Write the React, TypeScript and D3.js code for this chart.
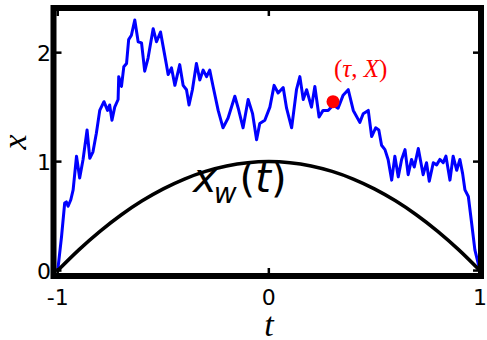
import * as d3 from "d3";

// Brownian path: time t and position x
const pathT = [
  -1.0, -0.982, -0.967, -0.959, -0.951, -0.938, -0.927, -0.911, -0.896, -0.88,
  -0.861, -0.848, -0.833, -0.817, -0.801, -0.781, -0.764, -0.754, -0.743, -0.73,
  -0.714, -0.711, -0.698, -0.687, -0.674, -0.664, -0.651, -0.635, -0.619, -0.603,
  -0.588, -0.572, -0.548, -0.532, -0.513, -0.501, -0.485, -0.477, -0.461, -0.445,
  -0.422, -0.406, -0.39, -0.378, -0.362, -0.343, -0.327, -0.311, -0.295, -0.28,
  -0.264, -0.24, -0.217, -0.193, -0.161, -0.145, -0.122, -0.098, -0.077, -0.058,
  -0.043, -0.019, 0.005, 0.025, 0.044, 0.068, 0.084, 0.108, 0.131, 0.147,
  0.163, 0.179, 0.202, 0.218, 0.238, 0.257, 0.281, 0.305, 0.328, 0.352,
  0.376, 0.4, 0.431, 0.447, 0.471, 0.487, 0.506, 0.521, 0.534, 0.55,
  0.565, 0.582, 0.597, 0.613, 0.629, 0.645, 0.66, 0.676, 0.689, 0.708,
  0.731, 0.747, 0.76, 0.779, 0.795, 0.81, 0.826, 0.839, 0.858, 0.873,
  0.89, 0.905, 0.918, 0.929, 0.945, 0.961, 0.976, 1.0,
];
const pathX = [
  0, 0.31, 0.62, 0.63, 0.59, 0.65, 0.74, 1.05, 0.85, 1.02,
  1.29, 1.03, 1.09, 1.26, 1.47, 1.55, 1.47, 1.52, 1.38, 1.5,
  1.57, 1.78, 1.69, 1.87, 1.9, 2.12, 2.16, 2.3, 2.1, 2.09,
  1.83, 1.95, 2.22, 2.1, 2.19, 2.06, 1.89, 1.8, 1.86, 1.7,
  1.89, 1.7, 1.66, 1.52, 1.66, 1.9, 1.75, 1.84, 1.78, 1.84,
  1.69, 1.47, 1.31, 1.4, 1.6, 1.49, 1.31, 1.57, 1.44, 1.2,
  1.35, 1.38, 1.5, 1.7, 1.63, 1.68, 1.49, 1.31, 1.66, 1.78,
  1.57, 1.66, 1.5, 1.69, 1.41, 1.47, 1.47, 1.52, 1.49, 1.61,
  1.66, 1.47, 1.36, 1.44, 1.47, 1.23, 1.31, 1.29, 1.15, 1.11,
  1.02, 0.83, 1.05, 0.86, 1.02, 1.11, 0.88, 1.02, 0.95, 1.12,
  0.88, 0.99, 0.82, 0.99, 0.97, 1.02, 0.99, 1.05, 0.83, 1.05,
  0.92, 1.02, 0.89, 0.74, 0.68, 0.43, 0.19, 0,
];

// x_w(t) curve
const curveT = [-1, -0.9, -0.8, -0.7, -0.6, -0.5, -0.4, -0.3, -0.2, -0.1, 0, 0.1, 0.2, 0.3, 0.4, 0.5, 0.6, 0.7, 0.8, 0.9, 1];
const curveX = [0, 0.19, 0.36, 0.51, 0.64, 0.75, 0.84, 0.91, 0.96, 0.99, 1, 0.99, 0.96, 0.91, 0.84, 0.75, 0.64, 0.51, 0.36, 0.19, 0];

const pointTau = 0.304;
const pointX = 1.55;

const xTicks = [-1, 0, 1];
const yTicks = [0, 1, 2];

const W = 487;
const H = 340;

export default function App() {
  const x = d3.scaleLinear().domain([-1.02, 1.005]).range([53.5, 481]);
  const y = d3.scaleLinear().domain([-0.05, 2.41]).range([276, 8]);

  const line = d3
    .line<number>()
    .x((d, i) => x(pathT[i]))
    .y((d) => y(d));

  const parab = d3
    .line<number>()
    .x((d, i) => x(curveT[i]))
    .y((d) => y(d))
    .curve(d3.curveMonotoneX);

  const [x0, x1] = x.range();
  const [yb, yt] = y.range();
  const tickLen = 8;
  const tickFont = "DejaVu Sans, sans-serif";
  const mathFont = "Liberation Serif, serif";

  return (
    <div style={{ position: "fixed", left: 0, top: 0 }}>
      <svg width={W} height={H} style={{ display: "block", background: "#fff" }}>
        <path d={line(pathX) ?? ""} fill="none" stroke="#0000ff" strokeWidth={3} strokeLinejoin="round" />
        <path d={parab(curveX) ?? ""} fill="none" stroke="#000" strokeWidth={3.5} />
        <circle cx={x(pointTau)} cy={y(pointX)} r={6.5} fill="#ff0000" />
        <text x={x(pointTau) + 1} y={y(pointX) - 25} fill="#ff0000" fontFamily={mathFont} fontSize={25}>
          (<tspan fontStyle="italic">τ</tspan>, <tspan fontStyle="italic">X</tspan>)
        </text>

        {/* x_w(t) label */}
        <text x={193} y={192} fontFamily={tickFont} fontSize={40} fill="#000">
          <tspan fontStyle="italic">x</tspan>
          <tspan fontStyle="italic" fontSize={28} dy={11} dx={-3}>w</tspan>
          <tspan dy={-11} dx={3}>(</tspan>
          <tspan fontStyle="italic">t</tspan>
          <tspan>)</tspan>
        </text>

        {/* frame */}
        <rect x={x0} y={yt} width={x1 - x0} height={yb - yt} fill="none" stroke="#000" strokeWidth={6} />

        {xTicks.map((t) => (
          <g key={"xt" + t}>
            <line x1={x(t)} x2={x(t)} y1={yb} y2={yb - tickLen} stroke="#000" strokeWidth={2.5} />
            <line x1={x(t)} x2={x(t)} y1={yt} y2={yt + tickLen} stroke="#000" strokeWidth={2.5} />
            <text x={x(t)} y={305} textAnchor="middle" fontFamily={tickFont} fontSize={22}>
              {t === -1 ? "-1" : String(t)}
            </text>
          </g>
        ))}
        {yTicks.map((v) => (
          <g key={"yt" + v}>
            <line x1={x0} x2={x0 + tickLen} y1={y(v)} y2={y(v)} stroke="#000" strokeWidth={2.5} />
            <line x1={x1} x2={x1 - tickLen} y1={y(v)} y2={y(v)} stroke="#000" strokeWidth={2.5} />
            <text x={51} y={y(v) + 8} textAnchor="end" fontFamily={tickFont} fontSize={22}>
              {String(v)}
            </text>
          </g>
        ))}

        <text x={269} y={336} textAnchor="middle" fontFamily={mathFont} fontStyle="italic" fontSize={34}>
          t
        </text>
        <text
          transform="translate(26,142) rotate(-90)"
          textAnchor="middle"
          fontFamily={mathFont}
          fontStyle="italic"
          fontSize={34}
        >
          x
        </text>
      </svg>
    </div>
  );
}
